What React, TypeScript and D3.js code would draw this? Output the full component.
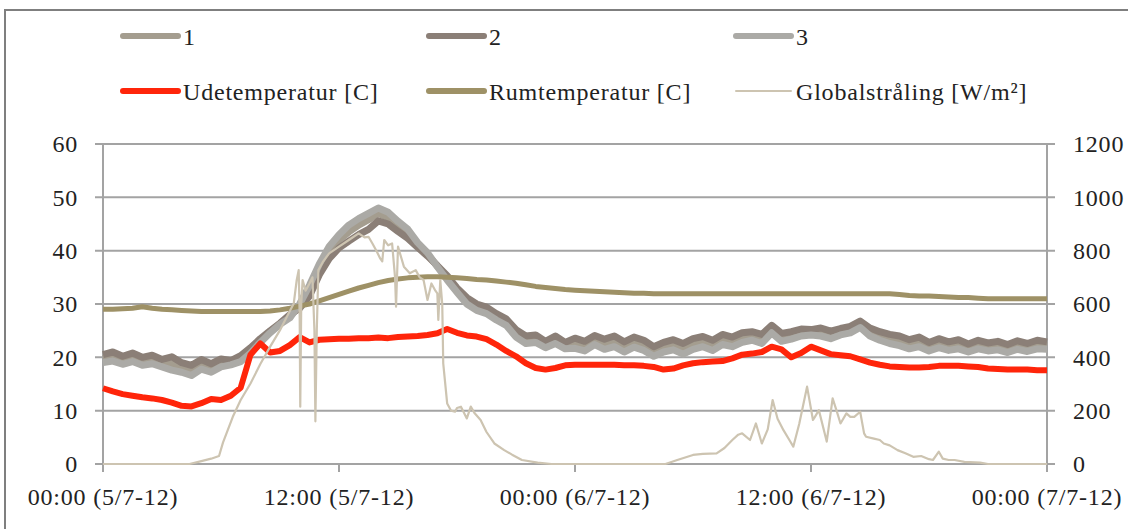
import * as d3 from "d3";
import React from "react";

// hours since 00:00 5/7-12, half-hour readings
const hours = d3.range(0, 48.5, 0.5);

const serie1 = [
  19.8, 20.2, 19.5, 20.0, 19.3, 19.6, 18.9, 18.8, 18.1, 17.5, 18.7, 18.0, 19.0, 19.0, 19.8, 21.3,
  23.1, 24.8, 26.3, 27.7, 29.6, 32.5, 36.5, 39.8, 42.0, 43.5, 44.8, 45.8, 47.0, 46.2, 44.6, 43.2,
  41.0, 39.3, 37.1, 34.9, 32.6, 30.6, 29.4, 28.8, 27.6, 26.6, 24.5, 23.3, 23.5, 22.4, 23.3, 22.2,
  22.6, 22.1, 23.2, 22.4, 23.0, 22.0, 22.8, 22.2, 21.1, 21.9, 22.3, 21.6, 22.5, 22.9, 22.2, 23.3,
  22.9, 23.7, 24.0, 23.4, 25.3, 23.8, 24.1, 24.6, 24.7, 24.7, 24.2, 24.8, 25.2, 26.2, 24.7, 24.0,
  23.4, 23.1, 22.4, 22.9, 22.0, 22.6, 22.1, 22.4, 21.8, 22.4, 21.9, 22.2, 21.6, 22.3, 21.8, 22.4,
  22.2,
];

const serie2 = [
  20.5, 21.0, 20.2, 20.8, 20.0, 20.4, 19.6, 20.1, 19.0, 18.5, 19.6, 18.8, 19.7, 19.4, 20.3, 21.8,
  23.5, 25.0, 26.4, 28.0, 29.2, 31.5, 35.5, 38.5, 40.5, 41.8, 43.0, 44.0, 45.6, 45.0, 43.6, 42.3,
  40.6, 39.0, 37.2, 35.3, 33.0, 31.2, 30.0, 29.4, 28.2, 27.2, 25.2, 24.0, 24.2, 23.0, 24.0, 22.8,
  23.6, 23.0, 24.1, 23.4, 24.0, 22.9, 23.8, 23.2, 22.0, 22.8, 23.3, 22.6, 23.5, 23.9, 23.2, 24.3,
  23.8, 24.6, 24.8, 24.3, 26.0, 24.5, 24.8, 25.3, 25.2, 25.5, 24.9, 25.4, 25.8, 26.8, 25.5, 24.8,
  24.3, 24.0, 23.3, 23.8, 22.8, 23.5, 22.9, 23.3, 22.5, 23.2, 22.7, 23.0, 22.4, 23.1, 22.6, 23.2,
  22.9,
];

const serie3 = [
  19.0, 19.3, 18.7, 19.2, 18.5, 18.8, 18.2, 17.6, 17.2, 16.6, 17.8, 17.2, 18.2, 18.6, 19.2, 20.8,
  22.8, 24.6, 26.2, 27.4, 30.0, 33.5, 37.5, 40.8, 43.0, 44.8, 46.0, 47.0, 48.0, 47.2, 45.5, 44.0,
  41.5, 39.6, 37.0, 34.5, 32.2, 30.0, 28.8, 28.2, 27.0, 26.0, 23.8, 22.6, 22.8, 21.8, 22.6, 21.6,
  21.7, 21.2, 22.4, 21.5, 22.0, 21.0, 21.9, 21.3, 20.2, 21.0, 21.4, 20.6, 21.5, 22.0, 21.3, 22.4,
  22.0, 22.8, 23.2, 22.6, 24.6, 23.0, 23.4, 24.0, 24.2, 24.0, 23.5, 24.2, 24.6, 25.6, 24.0, 23.2,
  22.6, 22.2, 21.6, 22.0, 21.2, 21.8, 21.3, 21.6, 21.0, 21.6, 21.2, 21.4, 20.9, 21.5, 21.1, 21.6,
  21.5,
];

const udetemperatur = [
  14.2, 13.6, 13.1, 12.8, 12.5, 12.3, 12.0, 11.5, 10.9, 10.8, 11.4, 12.2, 12.0, 12.8, 14.3, 20.5,
  22.6, 20.9, 21.2, 22.3, 23.8, 22.8, 23.3, 23.4, 23.5, 23.5, 23.6, 23.6, 23.7, 23.6, 23.8, 23.9,
  24.0, 24.2, 24.5, 25.3, 24.6, 24.1, 23.9, 23.4, 22.4, 21.2, 20.2, 18.9, 18.0, 17.7, 18.0, 18.5,
  18.6, 18.6, 18.6, 18.6, 18.6, 18.5, 18.5, 18.4, 18.2, 17.7, 17.9, 18.5, 18.9, 19.1, 19.2, 19.3,
  19.8, 20.5, 20.7, 21.0, 22.0, 21.5, 20.0, 20.8, 22.0, 21.3, 20.6, 20.4, 20.2, 19.6, 19.0, 18.6,
  18.3, 18.2, 18.1, 18.1, 18.2, 18.4, 18.4, 18.4, 18.3, 18.2, 17.9, 17.8, 17.7, 17.7, 17.7, 17.6,
  17.6,
];

const rumtemperatur = [
  29.0, 29.0, 29.1, 29.2, 29.5, 29.2, 29.0, 28.9, 28.8, 28.7, 28.6, 28.6, 28.6, 28.6, 28.6, 28.6,
  28.6, 28.7, 28.9, 29.2, 29.6, 30.0, 30.6, 31.2, 31.8, 32.4, 33.0, 33.5, 34.0, 34.4, 34.7, 34.9,
  35.0, 35.1, 35.1, 35.0, 34.9, 34.8, 34.6, 34.5, 34.3, 34.1, 33.9, 33.6, 33.3, 33.1, 32.9, 32.7,
  32.6, 32.5, 32.4, 32.3, 32.2, 32.1, 32.0, 32.0, 31.9, 31.9, 31.9, 31.9, 31.9, 31.9, 31.9, 31.9,
  31.9, 31.9, 31.9, 31.9, 31.9, 31.9, 31.9, 31.9, 31.9, 31.9, 31.9, 31.9, 31.9, 31.9, 31.9, 31.9,
  31.9, 31.8, 31.6, 31.5, 31.5, 31.4, 31.3, 31.2, 31.2, 31.1, 31.0, 31.0, 31.0, 31.0, 31.0, 31.0,
  31.0,
];

// global radiation, irregular readings [hour, W/m²]
const globalHours = [
  0, 4.4, 4.9, 5.5, 5.9, 6.1, 6.6, 7.0, 7.5, 8.0, 8.5, 9.0, 9.4, 9.7, 9.85, 9.95, 10.0, 10.03, 10.08,
  10.15, 10.3, 10.5, 10.65, 10.75, 10.8, 10.87, 10.95, 11.2, 11.5, 12.0, 12.5, 13.0, 13.3, 13.5, 13.7,
  13.9, 14.1, 14.2, 14.3, 14.5, 14.7, 14.85, 14.9, 14.95, 15.0, 15.3, 15.6, 15.9, 16.1, 16.3, 16.5,
  16.7, 16.9, 17.0, 17.05, 17.15, 17.25, 17.3, 17.5, 17.7, 17.9, 18.0, 18.2, 18.5, 18.7, 18.9, 19.2,
  19.5, 19.9, 20.4, 20.8, 21.3, 22.1, 22.8, 28.6, 29.2, 30.0, 30.5, 31.2, 31.6, 32.0, 32.3, 32.5, 32.9,
  33.2, 33.5, 33.8, 34.05, 34.3, 34.6, 34.9, 35.1, 35.4, 35.8, 36.1, 36.2, 36.4, 36.8, 37.1, 37.3,
  37.5, 37.8, 38.0, 38.2, 38.5, 38.7, 38.8, 39.2, 39.5, 39.7, 40.0, 40.4, 40.8, 41.2, 41.6, 42.0,
  42.2, 42.5, 42.7, 43.0, 43.3, 43.8, 44.6, 45.0, 48,
];
const globalValues = [
  0, 0, 9, 20, 30, 80, 177, 240, 302, 375, 440, 502, 560, 602, 690, 727, 560, 215, 600,
  690, 650, 677, 700, 500, 160, 500, 727, 760, 790, 815, 840, 865, 850, 852, 827,
  800, 770, 760, 840, 820, 827, 700, 590, 700, 815, 740, 715, 727, 700, 690, 615,
  677, 650, 640, 540, 690, 600, 377, 227, 200, 196, 210, 215, 171, 215, 190, 165,
  120, 77, 52, 35, 15, 5, 0, 0, 15, 34, 38, 40, 60, 90, 110, 115, 90,
  152, 77, 130, 240, 170, 127, 90, 65, 150, 290, 165, 177, 202, 84, 246, 200,
  152, 190, 177, 177, 196, 115, 102, 95, 90, 77, 70, 52, 40, 27, 30, 18,
  15, 46, 20, 15, 15, 8, 5, 0, 0,
];

const leftTicks = [0, 10, 20, 30, 40, 50, 60];
const rightTicks = [0, 200, 400, 600, 800, 1000, 1200];
const xTicks = [0, 12, 24, 36, 48];
const xTickLabels = ["00:00 (5/7-12)", "12:00 (5/7-12)", "00:00 (6/7-12)", "12:00 (6/7-12)", "00:00 (7/7-12)"];

const W = 1128;
const H = 529;
const FONT = "'Liberation Serif', 'Times New Roman', serif";
const GRID = "#a3a3a3";

type Serie = { label: string; values: number[]; color: string; width: number };

const tempSeries: Serie[] = [
  { label: "1", values: serie1, color: "#a49d8f", width: 7 },
  { label: "2", values: serie2, color: "#8b7f77", width: 7 },
  { label: "3", values: serie3, color: "#abaaa6", width: 7 },
  { label: "Udetemperatur [C]", values: udetemperatur, color: "#ff250a", width: 6 },
  { label: "Rumtemperatur [C]", values: rumtemperatur, color: "#9e9166", width: 5 },
];
const globalColor = "#cdc4b1";

const App: React.FC = () => {
  const x = d3.scaleLinear().domain([0, 48]).range([103, 1047]);
  const y = d3.scaleLinear().domain([0, 60]).range([464, 144]);
  const y2 = d3.scaleLinear().domain([0, 1200]).range([464, 144]);

  const line = d3
    .line<number>()
    .x((_, i) => x(hours[i]))
    .y((d) => y(d));

  const globalLine = d3
    .line<number>()
    .x((_, i) => x(globalHours[i]))
    .y((d) => y2(d));

  const legend = [
    { label: "1", color: tempSeries[0].color, width: 6, lx: 123, ly: 36 },
    { label: "2", color: tempSeries[1].color, width: 6, lx: 429, ly: 36 },
    { label: "3", color: tempSeries[2].color, width: 6, lx: 736, ly: 36 },
    { label: "Udetemperatur [C]", color: tempSeries[3].color, width: 6, lx: 123, ly: 91 },
    { label: "Rumtemperatur [C]", color: tempSeries[4].color, width: 6, lx: 429, ly: 91 },
    { label: "Globalstråling [W/m²]", color: globalColor, width: 2, lx: 736, ly: 91 },
  ];

  const textStyle = { fontFamily: FONT, fontSize: 24, letterSpacing: 0.8, fill: "#222" };

  return (
    <svg width={W} height={H} style={{ position: "absolute", left: 0, top: 0, background: "#fff" }}>
      <rect x={5} y={10} width={W + 20} height={H + 20} fill="#fff" stroke="#7f7f7f" strokeWidth={2} />

      {/* grid */}
      {leftTicks.map((t) => (
        <line key={"g" + t} x1={95} x2={1055} y1={y(t)} y2={y(t)} stroke={GRID} strokeWidth={2} />
      ))}
      <line x1={x(0)} x2={x(0)} y1={y(60)} y2={y(0)} stroke={GRID} strokeWidth={2} />
      <line x1={x(48)} x2={x(48)} y1={y(60)} y2={y(0)} stroke={GRID} strokeWidth={2} />
      {xTicks.map((t) => (
        <line key={"xt" + t} x1={x(t)} x2={x(t)} y1={y(0)} y2={y(0) + 8} stroke={GRID} strokeWidth={2} />
      ))}

      {/* labels */}
      {leftTicks.map((t) => (
        <text key={"l" + t} x={78} y={y(t)} dy="0.35em" textAnchor="end" style={textStyle}>
          {t}
        </text>
      ))}
      {rightTicks.map((t) => (
        <text key={"r" + t} x={1073} y={y2(t)} dy="0.35em" textAnchor="start" style={textStyle}>
          {t}
        </text>
      ))}
      {xTicks.map((t, i) => (
        <text key={"xl" + t} x={x(t)} y={505} textAnchor="middle" style={textStyle}>
          {xTickLabels[i]}
        </text>
      ))}

      {/* series */}
      {tempSeries.map((s) => (
        <path
          key={s.label}
          d={line(s.values) ?? ""}
          fill="none"
          stroke={s.color}
          strokeWidth={s.width}
          strokeLinejoin="round"
        />
      ))}
      <path d={globalLine(globalValues) ?? ""} fill="none" stroke={globalColor} strokeWidth={2.2} strokeLinejoin="round" />

      {/* legend */}
      {legend.map((l) => (
        <g key={l.label}>
          <line x1={l.lx} x2={l.lx + 55} y1={l.ly} y2={l.ly} stroke={l.color} strokeWidth={l.width} strokeLinecap="round" />
          <text x={l.lx + 60} y={l.ly + 9} style={textStyle}>
            {l.label}
          </text>
        </g>
      ))}
    </svg>
  );
};

export default App;
